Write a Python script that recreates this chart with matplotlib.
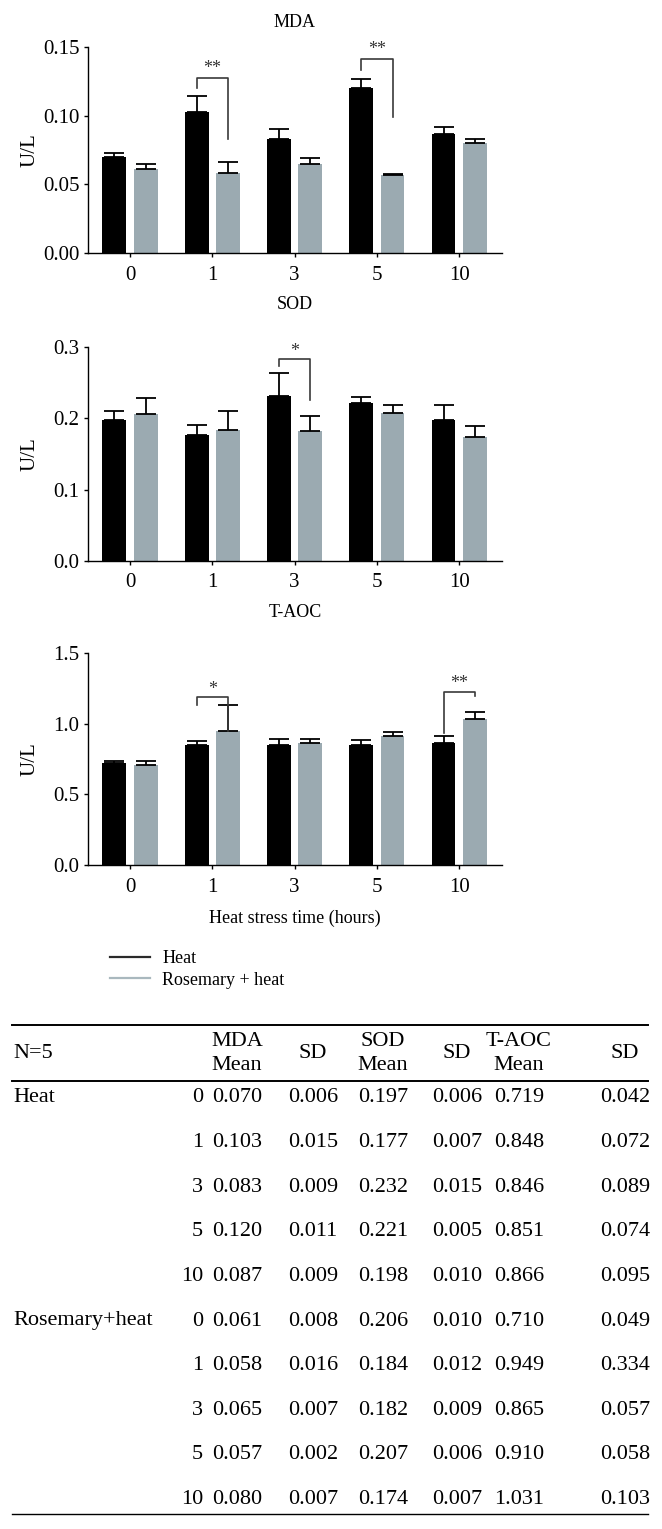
import numpy as np
import matplotlib
matplotlib.use("Agg")
import matplotlib.pyplot as plt
from matplotlib.lines import Line2D

plt.rcParams['font.family'] = ['Liberation Serif', 'DejaVu Serif']

# Data
times = ['0', '1', '3', '5', '10']
groups = ['Heat', 'Rosemary+heat']

mda_heat = [0.070, 0.103, 0.083, 0.120, 0.087]
mda_heat_sd = [0.006, 0.015, 0.009, 0.011, 0.009]
mda_ros = [0.061, 0.058, 0.065, 0.057, 0.080]
mda_ros_sd = [0.008, 0.016, 0.007, 0.002, 0.007]

sod_heat = [0.197, 0.177, 0.232, 0.221, 0.198]
sod_heat_sd = [0.006, 0.007, 0.015, 0.005, 0.010]
sod_ros = [0.206, 0.184, 0.182, 0.207, 0.174]
sod_ros_sd = [0.010, 0.012, 0.009, 0.006, 0.007]

taoc_heat = [0.719, 0.848, 0.846, 0.851, 0.866]
taoc_heat_sd = [0.042, 0.072, 0.089, 0.074, 0.095]
taoc_ros = [0.710, 0.949, 0.865, 0.910, 1.031]
taoc_ros_sd = [0.049, 0.334, 0.057, 0.058, 0.103]

# error bars as drawn in the chart (read off the picture, not the SD column)
mda_heat_err = [0.003, 0.011, 0.007, 0.007, 0.0045]
mda_ros_err = [0.004, 0.0085, 0.004, 0.0007, 0.003]
sod_heat_err = [0.013, 0.013, 0.031, 0.009, 0.020]
sod_ros_err = [0.022, 0.026, 0.021, 0.012, 0.015]
taoc_heat_err = [0.017, 0.028, 0.043, 0.033, 0.045]
taoc_ros_err = [0.024, 0.180, 0.024, 0.028, 0.050]

# significance brackets: (group index, top, left leg end, right leg end, label, label y)
mda_sig = [(1, 0.1275, 0.1198, 0.0827, '**', 0.134), (3, 0.1415, 0.133, 0.0992, '**', 0.148)]
sod_sig = [(2, 0.2827, 0.2738, 0.226, '*', 0.293)]
taoc_sig = [(1, 1.188, 1.134, 0.945, '*', 1.245), (4, 1.224, 0.933, 1.193, '**', 1.285)]

H, W = 1529, 662
fig = plt.figure(figsize=(W / 100, H / 100), dpi=100)

black = '#000000'
grey = '#9baab1'


def panel(top_px, bot_px, title, title_off, heat, heat_err, ros, ros_err, sig, yticks, fmt):
    ax = fig.add_axes([88 / W, 1 - bot_px / H, (502 - 88) / W, (bot_px - top_px) / H])
    x = np.arange(len(times))
    off = 0.19
    w = 0.29
    ax.bar(x - off, heat, w, color=black, zorder=2)
    ax.bar(x + off, ros, w, color=grey, zorder=2)
    ax.errorbar(x - off, heat, yerr=[np.zeros(5), heat_err], fmt='none', ecolor='black',
                elinewidth=1.3, capsize=7.5, capthick=1.3, zorder=3)
    ax.errorbar(x + off, ros, yerr=[np.zeros(5), ros_err], fmt='none', ecolor='black',
                elinewidth=1.3, capsize=7.5, capthick=1.3, zorder=3)
    for g, ytop, yl, yr, lab, ylab in sig:
        ax.plot([g - off, g - off, g + off, g + off], [yl, ytop, ytop, yr],
                color='#3a3a3a', lw=1.2, zorder=4)
        ax.text(g, ylab, lab, ha='center', va='center', fontsize=13, color='#333333')
    ax.set_xlim(-0.51, 4.52)
    ax.set_ylim(0, yticks[-1])
    ax.set_yticks(yticks)
    ax.set_yticklabels([fmt % v for v in yticks])
    ax.set_xticks(x)
    ax.set_xticklabels(times)
    ax.spines['top'].set_visible(False)
    ax.spines['right'].set_visible(False)
    for s in ['left', 'bottom']:
        ax.spines[s].set_linewidth(1.0)
    ax.tick_params(axis='both', direction='out', length=3, width=1.0, labelsize=15)
    ax.tick_params(axis='y', pad=3)
    ax.tick_params(axis='x', pad=6)
    ax.text(-58 / 414, 0.5, 'U/L', transform=ax.transAxes, rotation=90,
            ha='center', va='center', fontsize=15)
    ax.text(0.5, 1 + title_off, title, transform=ax.transAxes, ha='center', va='center', fontsize=13)
    return ax


panel(47, 253, 'MDA', 0.121, mda_heat, mda_heat_err, mda_ros, mda_ros_err, mda_sig,
      [0, 0.05, 0.10, 0.15], '%.2f')
panel(347, 561, 'SOD', 0.197, sod_heat, sod_heat_err, sod_ros, sod_ros_err, sod_sig,
      [0, 0.1, 0.2, 0.3], '%.1f')
ax3 = panel(653, 865, 'T-AOC', 0.189, taoc_heat, taoc_heat_err, taoc_ros, taoc_ros_err, taoc_sig,
            [0, 0.5, 1.0, 1.5], '%.1f')
ax3.text(0.5, -53 / 212, 'Heat stress time (hours)', transform=ax3.transAxes,
         ha='center', va='center', fontsize=13)

# legend
handles = [Line2D([], [], color='#2a2a2a', lw=1.6), Line2D([], [], color='#a9b8be', lw=1.6)]
fig.legend(handles, ['Heat', 'Rosemary + heat'], loc='upper left',
           bbox_to_anchor=(110 / W, 1 - 950 / H), frameon=False, fontsize=13,
           borderpad=0, borderaxespad=0, handlelength=2.2, handletextpad=0.7, labelspacing=0.25)

# table
tab = fig.add_axes([0, 0, 1, 1], zorder=-1)
tab.set_xlim(0, W)
tab.set_ylim(H, 0)
tab.axis('off')

ts = 16
tab.plot([12, 648], [1025, 1025], color='black', lw=1.4)
tab.plot([12, 648], [1081, 1081], color='black', lw=1.4)
tab.plot([12, 648], [1514, 1514], color='black', lw=1.0)

col_x = [237, 313, 383, 457, 519, 625]
tab.text(13, 1054, 'N=5', ha='left', va='center', fontsize=ts)
headers = [('MDA', 'Mean'), 'SD', ('SOD', 'Mean'), 'SD', ('T-AOC', 'Mean'), 'SD']
for cx, hd in zip(col_x, headers):
    if isinstance(hd, tuple):
        tab.text(cx, 1042, hd[0], ha='center', va='center', fontsize=ts)
        tab.text(cx, 1066, hd[1], ha='center', va='center', fontsize=ts)
    else:
        tab.text(cx, 1054, hd, ha='center', va='center', fontsize=ts)

cols = [(mda_heat, mda_ros), (mda_heat_sd, mda_ros_sd), (sod_heat, sod_ros),
        (sod_heat_sd, sod_ros_sd), (taoc_heat, taoc_ros), (taoc_heat_sd, taoc_ros_sd)]
row = 0
for gi, gname in enumerate(groups):
    for ti, t in enumerate(times):
        y = 1098 + row * 44.6
        if ti == 0:
            tab.text(13, y, gname, ha='left', va='center', fontsize=ts)
        tab.text(203, y, t, ha='right', va='center', fontsize=ts)
        for cx, c in zip(col_x, cols):
            tab.text(cx, y, '%.3f' % c[gi][ti], ha='center', va='center', fontsize=ts)
        row += 1

fig.savefig('out.png', dpi=100)
